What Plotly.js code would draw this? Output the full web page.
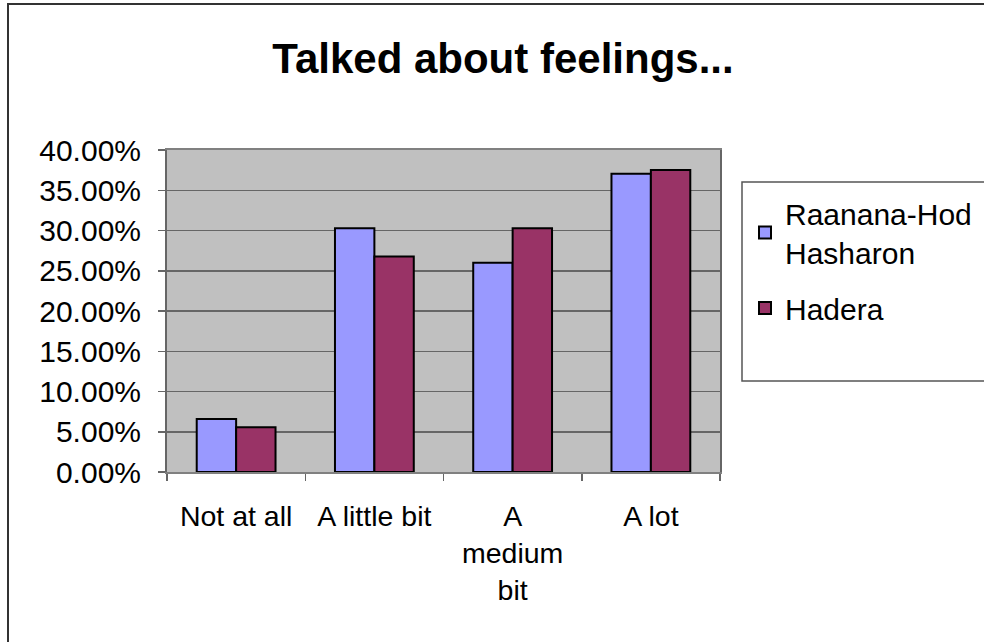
<!DOCTYPE html>
<html>
<head>
<meta charset="utf-8">
<script src="https://cdn.plot.ly/plotly-3.0.1.min.js"></script>
<style>
html,body{margin:0;padding:0;background:#fff;overflow:hidden;width:984px;height:642px;}
#frame{position:absolute;left:7px;top:3px;width:1100px;height:800px;border:2px solid #333;box-sizing:border-box;}
#chart{position:absolute;left:0;top:0;width:984px;height:642px;}
</style>
</head>
<body>
<div id="frame"></div>
<div id="chart"></div>
<script>
const categories = ["Not at all", "A little bit", "A<br>medium<br>bit", "A lot"];
const seriesNames = ["Raanana-Hod<br>Hasharon", "Hadera"];
const raanana = [0.0658, 0.3029, 0.2600, 0.3705];
const hadera = [0.0556, 0.2676, 0.3029, 0.3751];
const yTicks = [0, 0.05, 0.10, 0.15, 0.20, 0.25, 0.30, 0.35, 0.40];

const font = "Liberation Sans, Arial, sans-serif";

const L = 167, R = 720, T = 150, B = 472, W = 984, H = 642;
const pw = R - L, ph = B - T;
function px2x(p){ return (p - L) / pw; }
function py2y(p){ return (B - p) / ph; }

const traces = [
  {type:"bar", name:seriesNames[0], x:categories, y:raanana, legendgroup:"g1",
   marker:{color:"#9999FF", line:{color:"#000", width:2}}},
  {type:"bar", name:seriesNames[1], x:categories, y:hadera, legendgroup:"g2",
   marker:{color:"#993366", line:{color:"#000", width:2}}}
];

const layout = {
  width: W, height: H,
  paper_bgcolor: "rgba(0,0,0,0)",
  plot_bgcolor: "#C0C0C0",
  margin: {l:L, r:W-R, t:T, b:H-B, pad:0, autoexpand:false},
  title: {text:"<b>Talked about feelings...</b>", font:{family:font, size:42, color:"#000"},
          x:503/W, xref:"container", xanchor:"center", y:1-58/H, yref:"container", yanchor:"middle"},
  barmode: "group",
  bargap: 0.43,
  bargroupgap: 0,
  showlegend: true,
  legend: {xref:"container", yref:"container", x:745/W, y:1-187/H, xanchor:"left", yanchor:"top",
           font:{family:font, size:30, color:"#000"}, bgcolor:"rgba(0,0,0,0)",
           tracegroupgap: 14, itemwidth: 30},
  xaxis: {type:"category", showline:true, mirror:true, linecolor:"#808080", linewidth:2,
          ticks:"outside", tickson:"boundaries", ticklen:7, tickcolor:"#666", tickwidth:1.5,
          tickfont:{family:font, size:28.5, color:"#000"}, showgrid:false, fixedrange:true,
          ticklabelstandoff: 18, automargin:false},
  yaxis: {range:[0,0.40], tickvals:yTicks, tickformat:".2%", showline:true, mirror:true,
          linecolor:"#666", linewidth:2, ticks:"outside", ticklen:7, tickcolor:"#666", tickwidth:1.5,
          gridcolor:"#666", gridwidth:1.5, zeroline:false, automargin:false,
          tickfont:{family:font, size:30, color:"#000"}, ticklabelstandoff: 11},
  shapes: [
    {type:"rect", xref:"paper", yref:"paper", x0:px2x(742), x1:px2x(1200), y0:py2y(381), y1:py2y(182),
     line:{color:"#555", width:1.5}, fillcolor:"rgba(0,0,0,0)", layer:"above"}
  ]
};

Plotly.newPlot("chart", traces, layout, {displayModeBar:false, staticPlot:true});
</script>
</body>
</html>
